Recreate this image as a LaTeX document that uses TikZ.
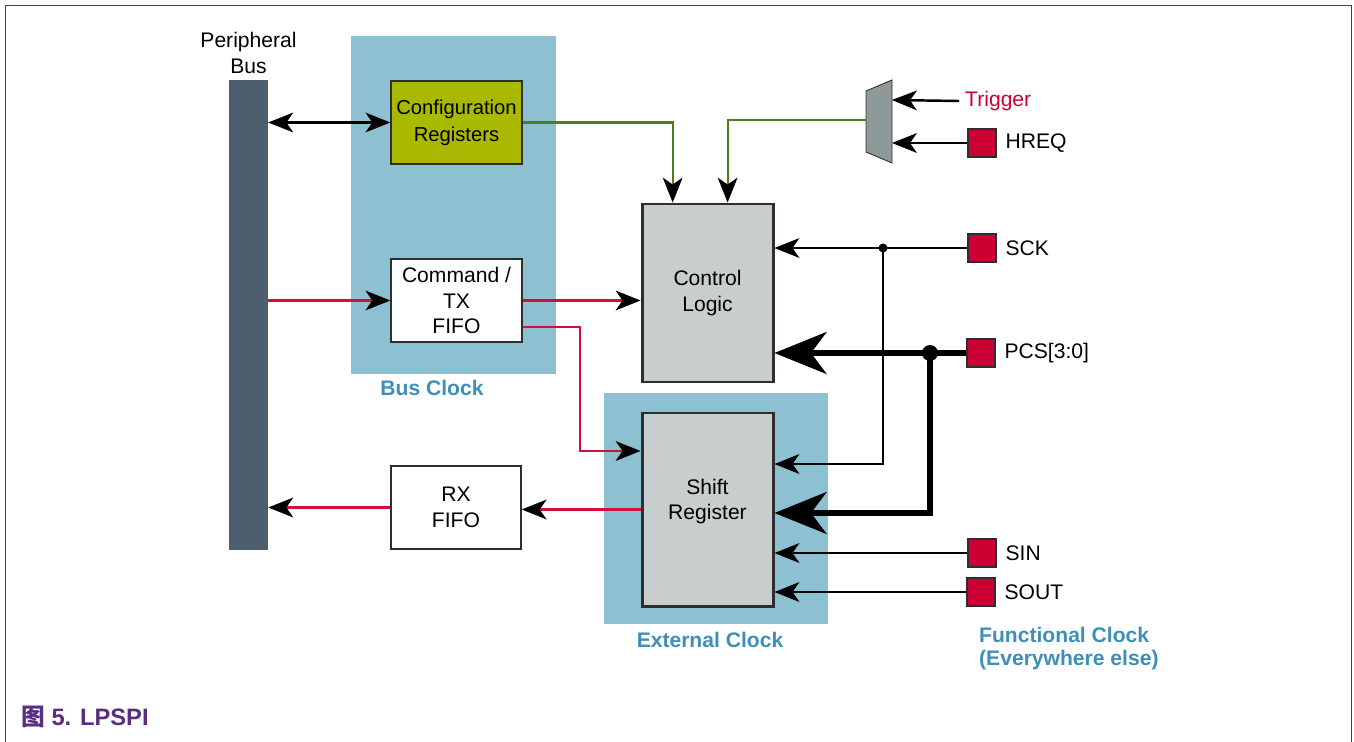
\documentclass[tikz,border=0pt]{standalone}
\usepackage{fontspec}
\setmainfont{Liberation Sans}
\newfontfamily\cjk{Noto Sans CJK SC}
\usetikzlibrary{arrows.meta,positioning,calc}
\definecolor{Frame}{HTML}{5A2D82}
\definecolor{BusSlate}{HTML}{4D5E6E}
\definecolor{ClkBlue}{HTML}{8DC0D0}
\definecolor{ClkText}{HTML}{3D8FB8}
\definecolor{CfgOlive}{HTML}{A9B800}
\definecolor{CoreGray}{HTML}{C8CDCD}
\definecolor{PadRed}{HTML}{CC0033}
\definecolor{LineRed}{HTML}{D0103A}
\definecolor{LineGreen}{HTML}{4A7F1F}
\definecolor{MuxGray}{HTML}{8E9A9A}
\definecolor{DarkLine}{HTML}{2E2E2E}

\begin{document}
\begin{tikzpicture}[font=\fontsize{12}{14.6}\selectfont,
>={Stealth[length=0.5cm,width=0.4cm,inset=0.14cm,color=black,line width=0pt]},
region/.style={fill=ClkBlue,inner sep=0pt},
blk/.style={draw=DarkLine,line width=0.8pt,fill=white,minimum width=2.62cm,minimum height=1.66cm,align=center,inner sep=0pt},
core/.style={draw=DarkLine,line width=1.7pt,fill=CoreGray,minimum width=2.62cm,align=center,inner sep=0pt},
pad/.style={draw=DarkLine,line width=1pt,fill=PadRed,minimum size=0.56cm,inner sep=0pt},
lbl/.style={label distance=0.05cm},
clk/.style={text=ClkText,font=\fontsize{12}{13}\selectfont\bfseries,align=left},
sig/.style={line width=1.05pt,draw=black},
redl/.style={line width=1.25pt,draw=LineRed},
grnl/.style={line width=1.2pt,draw=LineGreen},
bigarr/.style={-{Stealth[length=1.05cm,width=0.85cm,inset=0.32cm,line width=0pt]},line width=3.4pt}]
\useasboundingbox (0,0) rectangle (27.08,-14.84);
\draw[Frame,line width=1.1pt] (0.11,-14.84) -- (0.11,-0.11) -- (27.03,-0.11) -- (27.03,-14.84);

\node[fill=BusSlate,minimum width=0.78cm,minimum height=9.4cm,inner sep=0pt] (bus) at (4.97,-6.30) {};
\node[above=0pt of bus,align=center] (bustxt) {Peripheral\\Bus};

\node[region,minimum width=4.1cm,minimum height=6.76cm] (busclk) at (9.07,-4.10) {};
\node[clk] (busclktxt) at (8.64,-7.76) {Bus Clock};
\node[region,minimum width=4.48cm,minimum height=4.62cm] (extclk) at (14.32,-10.17) {};
\node[clk] (extclktxt) at (14.2,-12.80) {External Clock};
\node[clk,anchor=west] (fclktxt) at (19.46,-12.97) {Functional Clock\\(Everywhere else)};

\node[blk,fill=CfgOlive,font=\fontsize{11.5}{15.5}\selectfont] (cfg) at (9.13,-2.45) {Configuration\\Registers};
\node[blk] (cmd) at (9.13,-6.01) {Command /\\TX\\FIFO};
\node[blk,minimum width=2.6cm] (rx) at (9.12,-10.15) {RX\\FIFO};
\node[core,minimum height=3.56cm] (ctrl) at (14.15,-5.86) {Control\\Logic};
\node[core,minimum height=3.86cm] (shift) at (14.15,-10.19) {Shift\\Register\\[-3pt]};

\fill[MuxGray,draw=DarkLine,line width=0.5pt] (17.32,-1.82) -- (17.84,-1.60) -- (17.84,-3.26) -- (17.32,-3.04) -- cycle;
\coordinate (muxtrg) at (17.84,-2.0);
\coordinate (muxhreq) at (17.84,-2.86);
\coordinate (muxout) at (17.32,-2.40);

\node[anchor=west,text=PadRed] (trig) at (19.18,-2.02) {Trigger};
\node[pad,label={[lbl]right:HREQ}] (hreq) at (19.64,-2.86) {};
\node[pad,label={[lbl]right:SCK}] (sck) at (19.64,-4.96) {};
\node[pad,label={[lbl]right:PCS[3:0]}] (pcs) at (19.62,-7.06) {};
\node[pad,label={[lbl]right:SIN}] (sin) at (19.64,-11.06) {};
\node[pad,label={[lbl]right:SOUT}] (sout) at (19.62,-11.84) {};
\coordinate (sckj) at (17.66,-4.96);
\coordinate (pcsj) at (18.6,-7.06);

\draw[<->,line width=1.3pt] (cfg.west -| bus.east) -- (cfg.west);
\draw[->,redl] (cmd.west -| bus.east) -- (cmd.west);
\draw[->,redl,line width=1.9pt] (cmd.east) -- (cmd.east -| ctrl.west);
\draw[->,redl] ([yshift=-0.53cm]cmd.east) -- (11.6,-6.54) |- ([yshift=1.17cm]shift.west);
\draw[->,redl] (shift.west) -- (shift.west -| rx.east);
\draw[->,redl] (rx.west) -- (rx.west -| bus.east);
\draw[->,grnl] (cfg.east) -| ($(ctrl.north west)!0.24!(ctrl.north east)$);
\draw[->,grnl] (muxout) -| ($(ctrl.north west)!0.65!(ctrl.north east)$);
\draw[->,sig,line width=1.4pt] (trig.west) -- (muxtrg);
\draw[->,sig,line width=1.4pt] (hreq) -- (muxhreq);
\draw[->,sig] (sck) -- (sck -| ctrl.east);
\draw[->,sig] (sckj) |- ([yshift=0.91cm]shift.east);
\draw[bigarr] (pcs) -- (pcs -| ctrl.east);
\draw[bigarr] (pcsj) |- ([yshift=-0.07cm]shift.east);
\draw[->,sig] (sin) -- (sin -| shift.east);
\draw[->,sig] (sout) -- (sout -| shift.east);
\fill (sckj) circle (0.09cm);
\fill (pcsj) circle (0.16cm);

\node[anchor=west,text=Frame,font=\fontsize{13.5}{15}\selectfont\bfseries] (cap) at (0.30,-14.34) {{\cjk 图} 5. LPSPI};
\end{tikzpicture}
\end{document}
